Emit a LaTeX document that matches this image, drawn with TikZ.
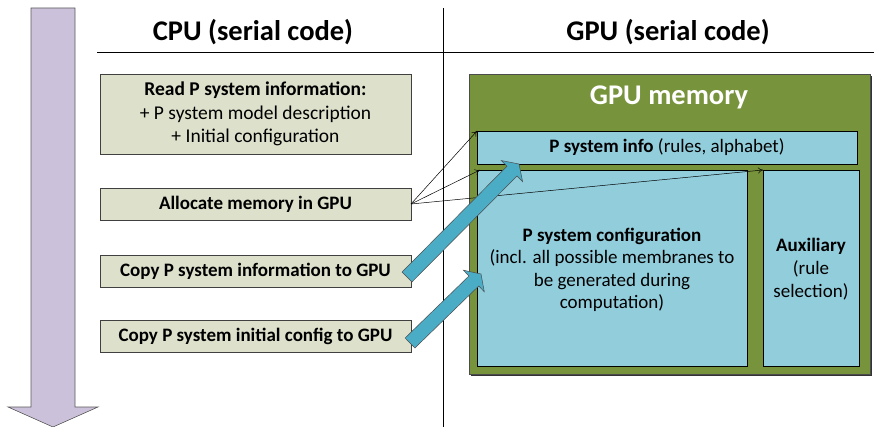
\documentclass[tikz,border=0pt]{standalone}
\usepackage{fontspec}
\setmainfont{Carlito}
\usetikzlibrary{arrows.meta,calc}
\definecolor{purp}{RGB}{204,193,218}
\definecolor{cpubox}{RGB}{221,224,203}
\definecolor{gpugreen}{RGB}{119,147,60}
\definecolor{lblue}{RGB}{146,205,220}
\definecolor{aqua}{RGB}{75,172,198}
\tikzset{
  cpustep/.style={draw=black!75, fill=cpubox, line width=0.6pt},
  membox/.style={draw=black, fill=lblue, line width=0.6pt},
  thin/.style={-{To[length=5pt,width=6pt]}, line width=0.5pt},
  fat/.style={fill=aqua, draw=black!70, line width=0.5pt},
  steptext/.style={font=\bfseries\fontsize{19}{22}\selectfont},
}
\begin{document}
\begin{tikzpicture}[x=1pt,y=-1pt]
\useasboundingbox (0,0) rectangle (874,427);
% time arrow
\draw[fill=purp, draw=black!65, line width=0.6pt] (31,8) -- (75,8) -- (75,407) -- (98,407) -- (53,427) -- (8,407) -- (31,407) -- cycle;
% separator lines
\coordinate (hl) at (97,52); \coordinate (hr) at (874,52);
\coordinate (vt) at (443,8); \coordinate (vb) at (443,427);
\draw[line width=0.6pt] (hl) -- (hr);
\draw[line width=0.6pt] (vt) -- (vb);
\node[font=\bfseries\fontsize{28.5}{32}\selectfont] (cpu) at (253,32) {CPU (serial code)};
\node[font=\bfseries\fontsize{28.5}{32}\selectfont] (gpu) at (668,32) {GPU (serial code)};
% CPU steps
\path[cpustep] (100,74) rectangle (411,154);
\node[align=center, font=\fontsize{19.5}{23.5}\selectfont] (read) at (255.5,114) {\textbf{Read P system information:}\\+ P system model description\\+ Initial configuration};
\path[cpustep] (100,188) rectangle (411,220);
\node[steptext] (alloc) at (255.5,204) {Allocate memory in GPU};
\path[cpustep] (100,255) rectangle (411,287);
\node[steptext] (copy1) at (255.5,271) {Copy P system information to GPU};
\path[cpustep] (100,320) rectangle (411,352);
\node[steptext] (copy2) at (255.5,336) {Copy P system initial config to GPU};
\coordinate (allocR) at (411,204);
% GPU memory
\fill[black!80] (471,76) rectangle (872,376);
\path[fill=gpugreen, draw=black!70, line width=0.6pt] (469,74) rectangle (870,374);
\node[text=white, font=\bfseries\fontsize{28.5}{32}\selectfont] (gpum) at (669,97) {GPU memory};
\fill[black!55] (478,132) rectangle (858,165);
\path[membox] (477,131) rectangle (857,164);
\node[font=\fontsize{19}{22}\selectfont] (info) at (667,147.5) {\textbf{P system info} (rules, alphabet)};
\fill[black!55] (478,171) rectangle (748,367);
\path[membox] (477,170) rectangle (747,366);
\node[align=center, font=\fontsize{19}{22.4}\selectfont] (conf) at (612,270) {\textbf{P system configuration}\\(incl. all possible membranes to\\be generated during\\computation)};
\fill[black!55] (764,171) rectangle (860,367);
\path[membox] (763,170) rectangle (859,366);
\node[align=center, font=\fontsize{19}{23}\selectfont] (aux) at (811,269) {\textbf{Auxiliary}\\(rule\\selection)};
\coordinate (infoTL) at (477,131);
\coordinate (confTL) at (480,170);
\coordinate (auxTL) at (763,170);
% thin arrows
\draw[thin] (allocR) -- (infoTL);
\draw[thin] (allocR) -- (confTL);
\draw[thin] (allocR) -- (auxTL);
% fat arrows
\coordinate (t1) at (407,277); \coordinate (h1) at (519,164);
\coordinate (t2) at (410,343); \coordinate (h2) at (481,274);
\foreach \t/\h in {t1/h1,t2/h2}{
  \path[fat] let \p1=($(\h)-(\t)$), \n1={atan2(\y1,\x1)}, \n2={veclen(\x1,\y1)} in
    [shift={(\t)}, rotate=\n1]
    (0,-7) -- (\n2-10,-7) -- (\n2-10,-15) -- (\n2,0) -- (\n2-10,15) -- (\n2-10,7) -- (0,7) -- cycle;
}
\end{tikzpicture}
\end{document}
